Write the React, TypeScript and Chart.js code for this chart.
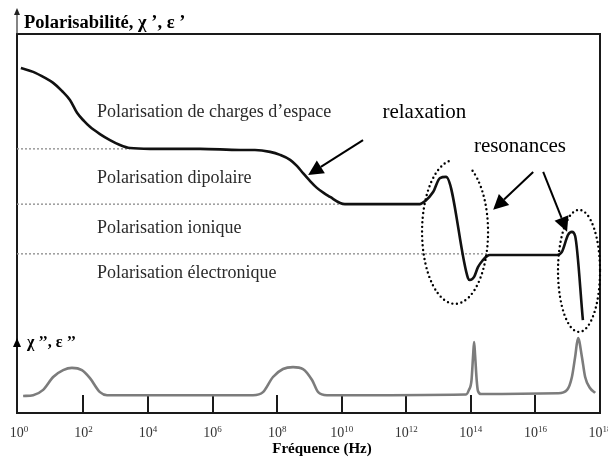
import { useEffect, useRef } from "react";
import { Chart, registerables } from "chart.js";

Chart.register(...registerables);

// ---- data (x = log10 of frequency in Hz, y = arbitrary polarisability units) ----
const tickExponents = [0, 2, 4, 6, 8, 10, 12, 14, 16, 18];
const innerTickExponents = [2, 4, 6, 8, 10, 12, 14, 16];

const chiRealExp = [0.06, 0.44, 0.81, 1.06, 1.33, 1.58, 1.8, 2.02, 2.2, 2.51, 2.82, 3.13, 3.44, 4.06, 5.61, 6.85, 7.31, 7.78, 8.09, 8.4, 8.61, 8.8, 9.02, 9.23, 9.45, 9.64, 9.95, 10.1, 12.42, 12.58, 12.83, 13.04, 13.23, 13.91, 13.97, 14.1, 14.22, 14.38, 14.5, 14.59, 16.67, 16.82, 17.01, 17.13, 17.23, 17.47];
const chiRealVal = [91, 90, 88.4, 87.1, 85, 82.6, 79.2, 77, 75.5, 73.6, 72, 70.7, 69.9, 69.7, 69.7, 69.4, 69.4, 68.9, 68.1, 66.8, 65.2, 63.3, 61.2, 59.4, 58, 57, 55.4, 55.1, 55.1, 55.9, 58.3, 62, 62.3, 35.6, 35.1, 35.9, 38.5, 40.4, 41.4, 41.7, 41.7, 42.5, 47, 47.8, 46.7, 24.5];

const chiImagExp = [0.13, 0.44, 0.75, 1.06, 1.37, 1.64, 1.95, 2.2, 2.51, 2.73, 3.22, 7.25, 7.56, 7.87, 8.18, 8.49, 8.8, 9.08, 9.27, 9.54, 13.85, 13.94, 14.02, 14.07, 14.1, 14.13, 14.18, 14.22, 14.32, 16.7, 16.98, 17.13, 17.23, 17.32, 17.44, 17.54, 17.69, 17.85];
const chiImagVal = [4.5, 4.7, 6.1, 9.5, 11.3, 11.9, 11.3, 9.2, 5.5, 4.7, 4.7, 4.7, 5.5, 9.5, 11.6, 12.1, 11.6, 8.7, 5.5, 4.7, 4.9, 6.1, 8.7, 15.3, 18.7, 15.3, 8.7, 5.8, 5.0, 5.2, 6.1, 9.5, 14.8, 19.8, 14.8, 9.5, 6.6, 5.3];

const levelVals = [69.7, 55.1, 42.0];
const levelEndExp = [3.44, 9.95, 14.5];
const levelNames = [
  "Polarisation de charges d\u2019espace",
  "Polarisation dipolaire",
  "Polarisation ionique",
  "Polarisation \u00e9lectronique",
];
const titleReal = "Polarisabilit\u00e9, \u03c7 \u2019, \u03b5 \u2019";
const titleImag = "\u03c7 \u2019\u2019, \u03b5 \u2019\u2019";
const xTitle = "Fr\u00e9quence (Hz)";
const noteRelax = "relaxation";
const noteReson = "resonances";

const SERIF = '"Liberation Serif", "Times New Roman", "DejaVu Serif", serif';

function App() {
  const ref = useRef<HTMLCanvasElement>(null);

  useEffect(() => {
    const canvas = ref.current;
    if (!canvas) return;
    const pts = (xs: number[], ys: number[]) => xs.map((x, i) => ({ x, y: ys[i] }));

    const arrow = (ctx: CanvasRenderingContext2D, x0: number, y0: number, x1: number, y1: number) => {
      const ang = Math.atan2(y1 - y0, x1 - x0);
      const hl = 15, hw = 7.5;
      const bx = x1 - hl * Math.cos(ang), by = y1 - hl * Math.sin(ang);
      ctx.beginPath();
      ctx.moveTo(x0, y0);
      ctx.lineTo(bx, by);
      ctx.lineWidth = 2;
      ctx.strokeStyle = "#000";
      ctx.stroke();
      ctx.beginPath();
      ctx.moveTo(x1, y1);
      ctx.lineTo(bx + hw * Math.sin(ang), by - hw * Math.cos(ang));
      ctx.lineTo(bx - hw * Math.sin(ang), by + hw * Math.cos(ang));
      ctx.closePath();
      ctx.fillStyle = "#000";
      ctx.fill();
    };

    const decorations = {
      id: "decorations",
      beforeDatasetsDraw(chart: any) {
        const { ctx, chartArea: a, scales } = chart;
        const xs = scales.x, ys = scales.y;
        ctx.save();
        // frame
        ctx.strokeStyle = "#1a1a1a";
        ctx.lineWidth = 2;
        ctx.beginPath();
        ctx.moveTo(a.left, a.bottom);
        ctx.lineTo(a.left, a.top);
        ctx.lineTo(a.right, a.top);
        ctx.lineTo(a.right, a.bottom);
        ctx.closePath();
        ctx.stroke();
        // inner ticks
        ctx.beginPath();
        innerTickExponents.forEach((e) => {
          const px = Math.round(xs.getPixelForValue(e));
          ctx.moveTo(px, a.bottom);
          ctx.lineTo(px, a.bottom - 18);
        });
        ctx.stroke();
        // axis extension with arrow
        ctx.lineWidth = 1.2;
        ctx.strokeStyle = "#333";
        ctx.beginPath();
        ctx.moveTo(a.left, a.top);
        ctx.lineTo(a.left, 13);
        ctx.stroke();
        ctx.fillStyle = "#222";
        ctx.beginPath();
        ctx.moveTo(a.left, 8);
        ctx.lineTo(a.left - 3, 15);
        ctx.lineTo(a.left + 3, 15);
        ctx.closePath();
        ctx.fill();
        // chi'' axis arrow
        const tipY = ys.getPixelForValue(19.8);
        ctx.fillStyle = "#000";
        ctx.beginPath();
        ctx.moveTo(a.left, tipY);
        ctx.lineTo(a.left - 4, tipY + 9);
        ctx.lineTo(a.left + 4, tipY + 9);
        ctx.closePath();
        ctx.fill();
        // titles
        ctx.fillStyle = "#000";
        ctx.textBaseline = "alphabetic";
        ctx.textAlign = "left";
        ctx.font = `bold 18.5px ${SERIF}`;
        ctx.fillText(titleReal, a.left + 7, a.top - 6);
        ctx.font = `bold 16px ${SERIF}`;
        ctx.fillText(titleImag, a.left + 10, tipY + 9);
        ctx.font = `bold 15px ${SERIF}`;
        ctx.textAlign = "center";
        ctx.textBaseline = "middle";
        ctx.fillText(xTitle, 322, a.bottom + 36);
        // tick labels 10^k
        ctx.fillStyle = "#333";
        ctx.textAlign = "left";
        ctx.textBaseline = "alphabetic";
        tickExponents.forEach((e) => {
          const px = xs.getPixelForValue(e);
          ctx.font = `14px ${SERIF}`;
          const wb = ctx.measureText("10").width;
          ctx.font = `9px ${SERIF}`;
          const we = ctx.measureText(String(e)).width;
          const x0 = px - (wb + we) / 2;
          ctx.font = `14px ${SERIF}`;
          ctx.fillText("10", x0, a.bottom + 24);
          ctx.font = `9px ${SERIF}`;
          ctx.fillText(String(e), x0 + wb, a.bottom + 19);
        });
        ctx.restore();
      },
      afterDatasetsDraw(chart: any) {
        const { ctx, scales } = chart;
        const X = (v: number) => scales.x.getPixelForValue(v);
        const Y = (v: number) => scales.y.getPixelForValue(v);
        ctx.save();
        // level names
        ctx.fillStyle = "#2a2a2a";
        ctx.font = `18px ${SERIF}`;
        ctx.textAlign = "left";
        ctx.textBaseline = "middle";
        const labelY = [79.4, 62.0, 48.8, 36.9];
        levelNames.forEach((t, i) => ctx.fillText(t, X(2.42), Y(labelY[i])));
        // notes
        ctx.fillStyle = "#000";
        ctx.font = `21px ${SERIF}`;
        ctx.textAlign = "center";
        ctx.fillText(noteRelax, X(12.56), Y(79.2));
        ctx.fillText(noteReson, X(15.52), Y(70.2));
        // arrows
        arrow(ctx, X(10.66), Y(72.0), X(8.96), Y(62.8));
        arrow(ctx, X(15.93), Y(63.6), X(14.69), Y(53.6));
        arrow(ctx, X(16.24), Y(63.6), X(16.98), Y(47.8));
        // dotted ellipses
        ctx.strokeStyle = "#000";
        ctx.lineWidth = 2.4;
        ctx.lineCap = "round";
        ctx.setLineDash([0, 4.6]);
        const d = Math.PI / 180;
        ctx.beginPath();
        ctx.ellipse(X(13.51), Y(47.8), 33, 72, 0, -58 * d, 262 * d);
        ctx.stroke();
        ctx.beginPath();
        ctx.ellipse(X(17.35), Y(37.5), 21, 61, 0, 0, Math.PI * 2);
        ctx.stroke();
        ctx.restore();
      },
    };

    const chart = new Chart(canvas, {
      type: "line",
      data: {
        datasets: [
          {
            label: "chi'",
            data: pts(chiRealExp, chiRealVal),
            borderColor: "#111",
            borderWidth: 2.6,
            cubicInterpolationMode: "monotone",
            pointRadius: 0,
          },
          {
            label: "chi''",
            data: pts(chiImagExp, chiImagVal),
            borderColor: "#7c7c7c",
            borderWidth: 2.6,
            cubicInterpolationMode: "monotone",
            pointRadius: 0,
          },
          ...levelVals.map((lv, i) => ({
            label: "level" + i,
            data: [
              { x: -0.06, y: lv },
              { x: levelEndExp[i], y: lv },
            ],
            borderColor: "#9a9a9a",
            borderWidth: 1.5,
            borderDash: [2, 2],
            pointRadius: 0,
          })),
        ],
      },
      options: {
        animation: false,
        responsive: false,
        maintainAspectRatio: false,
        layout: { padding: { left: 17, top: 34, right: 8, bottom: 44 } },
        scales: {
          x: { type: "linear", min: -0.06, max: 18, display: false },
          y: { type: "linear", min: 0, max: 100, display: false },
        },
        plugins: { legend: { display: false }, tooltip: { enabled: false } },
      },
      plugins: [decorations],
    } as any);
    return () => chart.destroy();
  }, []);

  return (
    <div style={{ position: "fixed", left: 0, top: 0, width: 608, height: 457, background: "#fff" }}>
      <canvas ref={ref} width={608} height={457} style={{ display: "block" }} />
    </div>
  );
}

export default App;
